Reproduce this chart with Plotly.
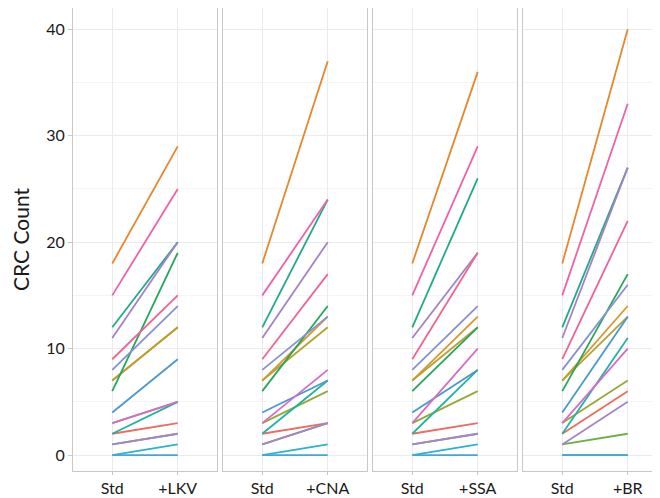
import plotly.graph_objects as go
from plotly.subplots import make_subplots

# panels and x categories
panels = ["+LKV", "+CNA", "+SSA", "+BR"]

# one entry per sample line (drawn in this order)
colors = ["#EE6B5F", "#E5872D", "#D9962B", "#B9A033", "#95A93A", "#6EAE45",
          "#27A55B", "#22A987", "#22B3A6", "#2AB3CE", "#4C98CE", "#45A5D8",
          "#8790D0", "#A283C6", "#A584CC", "#D56CC6", "#EE62A8", "#EE6590"]
std_vals = [2, 18, 7, 7, 3, 1, 6, 12, 2, 0, 4, 0, 8, 11, 1, 3, 15, 9]
lkv_vals = [3, 29, 12, 12, 5, 2, 19, 20, 5, 1, 9, 0, 14, 20, 2, 5, 25, 15]
cna_vals = [3, 37, 13, 12, 6, 3, 14, 24, 7, 1, 7, 0, 13, 20, 3, 8, 24, 17]
ssa_vals = [3, 36, 13, 12, 6, 2, 12, 26, 8, 1, 8, 0, 14, 19, 2, 10, 29, 19]
br_vals = [6, 40, 14, 13, 7, 2, 17, 27, 11, 0, 13, 0, 16, 27, 5, 10, 33, 22]
after_vals = [lkv_vals, cna_vals, ssa_vals, br_vals]

y_ticks = [0, 10, 20, 30, 40]

fig = make_subplots(rows=1, cols=4, shared_yaxes=True,
                    horizontal_spacing=6 / 594)

for p, name in enumerate(panels):
    vals = after_vals[p]
    for i in range(len(std_vals)):
        fig.add_trace(
            go.Scatter(
                x=["Std", name],
                y=[std_vals[i], vals[i]],
                mode="lines",
                line=dict(color=colors[i], width=1.8),
                showlegend=False,
                hoverinfo="skip",
            ),
            row=1, col=p + 1,
        )
    fig.update_xaxes(
        type="category",
        range=[-0.6, 1.6],
        showgrid=True,
        gridcolor="#EBEBEB",
        gridwidth=1,
        showline=True,
        mirror=True,
        linecolor="#C8C8C8",
        linewidth=1,
        ticks="outside",
        ticklen=3,
        tickcolor="#C8C8C8",
        tickfont=dict(size=16, color="#1A1A1A"),
        zeroline=False,
        row=1, col=p + 1,
    )
    fig.update_yaxes(
        range=[-1.5, 42],
        tickvals=y_ticks,
        showgrid=True,
        gridcolor="#EBEBEB",
        gridwidth=1,
        minor=dict(tickvals=[5, 15, 25, 35], showgrid=True,
                   gridcolor="#F4F4F4", gridwidth=1),
        showline=True,
        mirror=True,
        linecolor="#C8C8C8",
        linewidth=1,
        zeroline=False,
        row=1, col=p + 1,
    )

fig.update_yaxes(
    ticks="outside",
    ticklen=4,
    tickcolor="#C8C8C8",
    tickfont=dict(size=16, color="#1A1A1A"),
    title=dict(text="CRC Count", font=dict(size=21, color="#1A1A1A"), standoff=12),
    row=1, col=1,
)

fig.update_layout(
    width=660,
    height=498,
    margin=dict(l=65, r=1, t=0, b=35),
    plot_bgcolor="white",
    paper_bgcolor="white",
    font=dict(family="Lato, Open Sans, sans-serif"),
)

fig.write_html("out.html")
